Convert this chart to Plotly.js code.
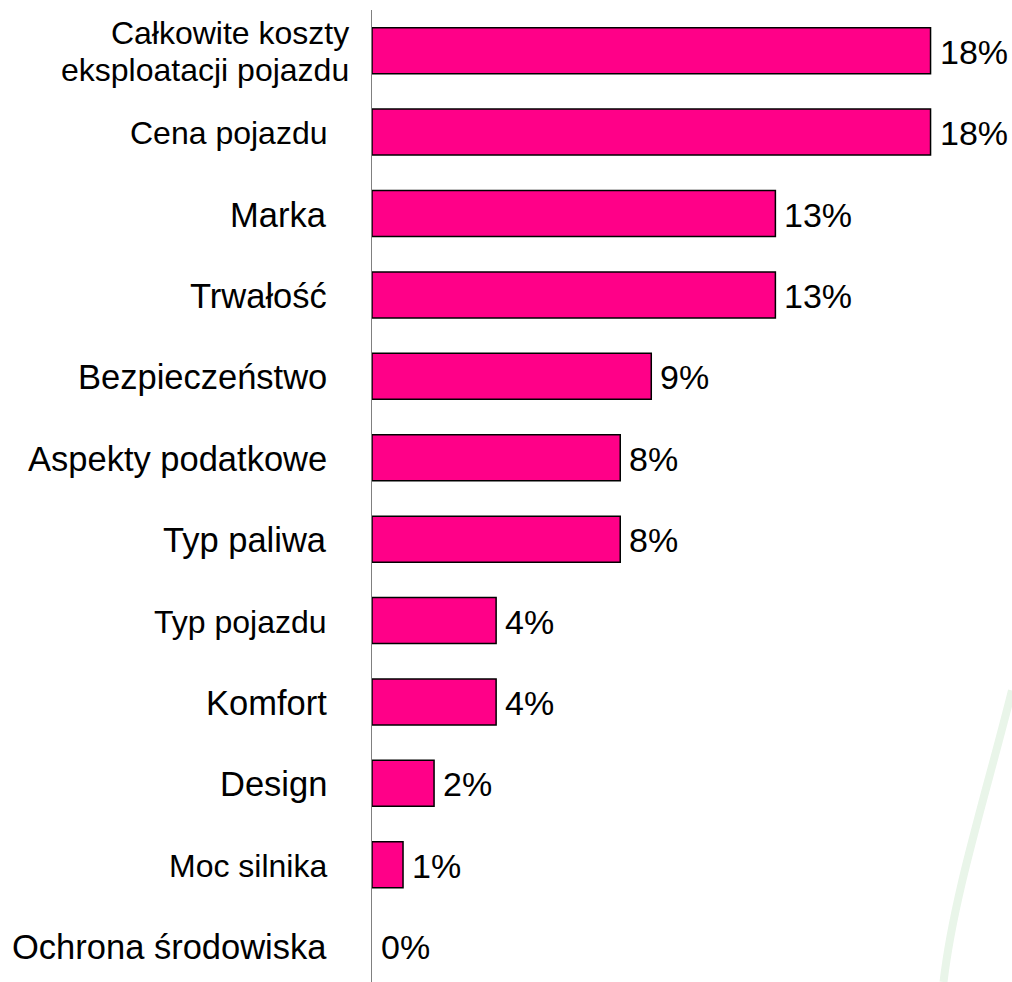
<!DOCTYPE html>
<html>
<head>
<meta charset="utf-8">
<script src="https://cdn.plot.ly/plotly-3.0.1.min.js"></script>
<style>html,body{margin:0;padding:0;background:#fff;}#chart{width:1012px;height:982px;}</style>
</head>
<body>
<div id="chart"></div>
<script>
// Data (top to bottom)
const categories = [
  "Całkowite koszty eksploatacji pojazdu",
  "Cena pojazdu",
  "Marka",
  "Trwałość",
  "Bezpieczeństwo",
  "Aspekty podatkowe",
  "Typ paliwa",
  "Typ pojazdu",
  "Komfort",
  "Design",
  "Moc silnika",
  "Ochrona środowiska"
];
const values = [18, 18, 13, 13, 9, 8, 8, 4, 4, 2, 1, 0];
const labelSuffix = "%";

// Label display text (line breaks) and per-label styling, kept separate from data
const labelText = {
  "Całkowite koszty eksploatacji pojazdu": "Całkowite koszty<br>eksploatacji pojazdu"
};
const smallLabels = ["Całkowite koszty eksploatacji pojazdu", "Cena pojazdu", "Typ pojazdu", "Moc silnika"];

const FONT = '"Liberation Sans", Arial, Helvetica, sans-serif';
const BAR_COLOR = '#FF0088';

const trace = {
  type: 'bar',
  orientation: 'h',
  y: categories,
  x: values,
  marker: { color: BAR_COLOR, line: { color: '#000000', width: values.map(v => v > 0 ? 1.5 : 0) } },
  hoverinfo: 'none'
};

const annotations = [];
categories.forEach((c, i) => {
  // value label
  annotations.push({
    xref: 'x', yref: 'y', x: values[i], y: c,
    text: values[i] + labelSuffix,
    showarrow: false, xanchor: 'left', yanchor: 'middle',
    xshift: 7, yshift: -1,
    font: { family: FONT, size: 34, color: '#000' }
  });
  // category label
  const small = smallLabels.indexOf(c) >= 0;
  const multi = !!labelText[c];
  annotations.push({
    xref: 'x', yref: 'y', x: 0, y: c,
    text: multi ? labelText[c].split('<br>').map(s => '<span style="font-size:32px">' + s + '</span>').join('<br>') : c,
    showarrow: false, xanchor: 'right', yanchor: 'middle', align: 'right',
    xshift: multi ? -21 : -43, yshift: -1,
    font: { family: FONT, size: multi ? 28.5 : (small ? 32 : 34.5), color: '#000' }
  });
});

const layout = {
  width: 1012, height: 982,
  margin: { l: 372, r: 0, t: 10, b: 0, pad: 0 },
  paper_bgcolor: '#ffffff', plot_bgcolor: 'rgba(0,0,0,0)',
  showlegend: false,
  bargap: 0.435,
  font: { family: FONT, color: '#000' },
  xaxis: {
    range: [0, 20.625], showgrid: false, zeroline: false, showline: false,
    showticklabels: false, ticks: '', fixedrange: true
  },
  yaxis: {
    type: 'category', categoryorder: 'array', categoryarray: categories,
    range: [11.44, -0.5], showgrid: false, zeroline: false,
    showline: true, linecolor: '#808080', linewidth: 1.5,
    showticklabels: false, ticks: '', fixedrange: true
  },
  annotations: annotations,
  shapes: [{
    type: 'path', xref: 'paper', yref: 'paper', layer: 'below',
    path: 'M1.0,0.30 C0.958,0.19 0.909,0.09 0.893,0',
    line: { color: '#e9f5e9', width: 8 }
  }]
};

Plotly.newPlot('chart', [trace], layout, { displayModeBar: false, staticPlot: true });
</script>
</body>
</html>
